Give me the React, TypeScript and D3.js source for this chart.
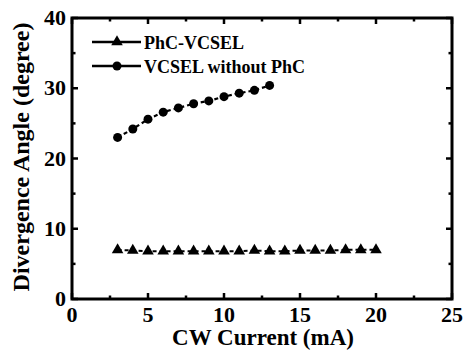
import React from "react";
import * as d3 from "d3";

const phcCurrent = [3, 4, 5, 6, 7, 8, 9, 10, 11, 12, 13, 14, 15, 16, 17, 18, 19, 20];
const phcAngle = [7.0, 6.9, 6.8, 6.8, 6.8, 6.8, 6.8, 6.8, 6.8, 6.9, 6.8, 6.8, 6.9, 6.9, 6.9, 7.0, 7.0, 7.0];
const vcselCurrent = [3, 4, 5, 6, 7, 8, 9, 10, 11, 12, 13];
const vcselAngle = [23.0, 24.2, 25.6, 26.6, 27.2, 27.8, 28.2, 28.8, 29.3, 29.7, 30.4];
const xTicks = [0, 5, 10, 15, 20, 25];
const yTicks = [0, 10, 20, 30, 40];
const seriesNames = ["PhC-VCSEL", "VCSEL without PhC"];

export default function App() {
  const W = 463, H = 352;
  const left = 72, right = 452, top = 18, bottom = 299;
  const x = d3.scaleLinear().domain([0, 25]).range([left, right]);
  const y = d3.scaleLinear().domain([0, 40]).range([bottom, top]);
  const font = "Liberation Serif";
  const line = d3.line<[number, number]>().x(d => x(d[0])).y(d => y(d[1]));
  const phc: [number, number][] = phcCurrent.map((c, i) => [c, phcAngle[i]]);
  const vc: [number, number][] = vcselCurrent.map((c, i) => [c, vcselAngle[i]]);
  const tri = d3.symbol().type(d3.symbolTriangle).size(58)();
  const xMinor = d3.range(0, 25.01, 2.5);
  const yMinor = d3.range(0, 40.01, 5);
  const legY = [42, 66];
  return (
    <svg width={W} height={H} style={{ position: "absolute", left: 0, top: 0, background: "#fff" }}>
      {xMinor.map(t => {
        const major = t % 5 === 0;
        const L = major ? 6 : 3.5;
        return (
          <g key={"x" + t}>
            <line x1={x(t)} x2={x(t)} y1={bottom} y2={bottom - L} stroke="#000" strokeWidth={2.5} />
            <line x1={x(t)} x2={x(t)} y1={top} y2={top + L} stroke="#000" strokeWidth={2.5} />
          </g>
        );
      })}
      {yMinor.map(t => {
        const major = t % 10 === 0;
        const L = major ? 6 : 3.5;
        return (
          <g key={"y" + t}>
            <line x1={left} x2={left + L} y1={y(t)} y2={y(t)} stroke="#000" strokeWidth={2.5} />
            <line x1={right} x2={right - L} y1={y(t)} y2={y(t)} stroke="#000" strokeWidth={2.5} />
          </g>
        );
      })}
      <rect x={left} y={top} width={right - left} height={bottom - top} fill="none" stroke="#000" strokeWidth={3} />
      {xTicks.map(t => (
        <text key={"xl" + t} x={x(t)} y={bottom + 23} textAnchor="middle" fontFamily={font} fontWeight="bold" fontSize={22}>{t}</text>
      ))}
      {yTicks.map(t => (
        <text key={"yl" + t} x={left - 6} y={y(t) + 7} textAnchor="end" fontFamily={font} fontWeight="bold" fontSize={22}>{t}</text>
      ))}
      <text x={263} y={345} textAnchor="middle" fontFamily={font} fontWeight="bold" fontSize={23}>CW Current (mA)</text>
      <text transform={`translate(29,157) rotate(-90)`} textAnchor="middle" fontFamily={font} fontWeight="bold" fontSize={24}>Divergence Angle (degree)</text>
      <path d={line(phc) || ""} fill="none" stroke="#000" strokeWidth={2} strokeDasharray="4,3" />
      {phc.map((d, i) => (
        <path key={"p" + i} d={tri || ""} transform={`translate(${x(d[0])},${y(d[1])})`} fill="#000" />
      ))}
      <path d={line(vc) || ""} fill="none" stroke="#000" strokeWidth={2.2} strokeDasharray="4,3" />
      {vc.map((d, i) => (
        <circle key={"c" + i} cx={x(d[0])} cy={y(d[1])} r={4.5} fill="#000" />
      ))}
      {seriesNames.map((n, i) => (
        <g key={n}>
          <line x1={92} x2={141} y1={legY[i]} y2={legY[i]} stroke="#000" strokeWidth={2.5} />
          {i === 0 ? (
            <path d={tri || ""} transform={`translate(117,${legY[i]})`} fill="#000" />
          ) : (
            <circle cx={117} cy={legY[i]} r={4.5} fill="#000" />
          )}
          <text x={144} y={legY[i] + 7} fontFamily={font} fontWeight="bold" fontSize={18}>{n}</text>
        </g>
      ))}
    </svg>
  );
}
